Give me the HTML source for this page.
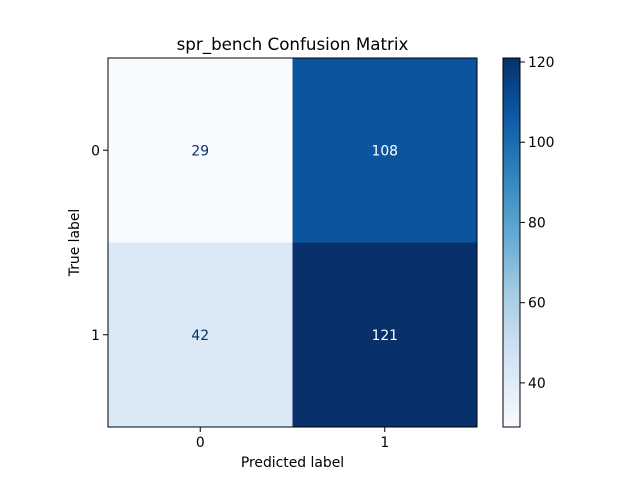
<!DOCTYPE html>
<html><head><meta charset="utf-8"><style>
body{margin:0;background:#fff;}
svg{font-family:"DejaVu Sans","Liberation Sans",sans-serif;}
</style></head><body>
<svg id="chart" width="640" height="480" viewBox="0 0 640 480" xmlns="http://www.w3.org/2000/svg">
<rect width="640" height="480" fill="#fff"/>
<text x="292.5" y="50" font-size="16.7" text-anchor="middle" fill="#000">spr_bench Confusion Matrix</text>
<defs><linearGradient id="cbg" x1="0" y1="1" x2="0" y2="0">
<stop offset="0" stop-color="#f7fbff"/><stop offset="0.125" stop-color="#deebf7"/><stop offset="0.25" stop-color="#c6dbef"/><stop offset="0.375" stop-color="#9ecae1"/><stop offset="0.5" stop-color="#6baed6"/><stop offset="0.625" stop-color="#4292c6"/><stop offset="0.75" stop-color="#2171b5"/><stop offset="0.875" stop-color="#08519c"/><stop offset="1" stop-color="#08306b"/>
</linearGradient></defs>
<g id="cells"></g>
<g id="axes"></g>
</svg>
<script>
const rowLabels=["0","1"];
const colLabels=["0","1"];
const row0=[29,108];
const row1=[42,121];
const cbTicks=[40,60,80,100,120];

const matrix=[row0,row1];
const L=108,T=58,R=477,B=427;
const all=matrix.flat();const vmin=Math.min(...all),vmax=Math.max(...all);
const cw=(R-L)/colLabels.length,ch=(B-T)/rowLabels.length;
const stops=["#f7fbff","#deebf7","#c6dbef","#9ecae1","#6baed6","#4292c6","#2171b5","#08519c","#08306b"].map(h=>[parseInt(h.substr(1,2),16),parseInt(h.substr(3,2),16),parseInt(h.substr(5,2),16)]);
function cmap(v){let t=(v-vmin)/(vmax-vmin);t=Math.max(0,Math.min(1,t));const p=t*8;const i=Math.min(7,Math.floor(p));const f=p-i;const c=stops[i].map((a,k)=>Math.round(a+(stops[i+1][k]-a)*f));return `rgb(${c})`;}
const NS="http://www.w3.org/2000/svg";
function el(tag,attrs,parent){const e=document.createElementNS(NS,tag);for(const k in attrs)e.setAttribute(k,attrs[k]);parent.appendChild(e);return e;}
const cells=document.getElementById('cells'),axes=document.getElementById('axes');
matrix.forEach((row,r)=>row.forEach((v,c)=>{
 const x=L+c*cw,y=T+r*ch;
 const rc=el('rect',{x:x,y:y,width:cw+0.5,height:ch+0.5,fill:cmap(v)},cells);
 
 
 const t=el('text',{x:x+cw/2,y:y+ch/2+5,'font-size':'13.9','text-anchor':'middle',fill:(v-vmin)/(vmax-vmin)>0.5?'#fff':'#08306b'},cells);
 t.textContent=v;
 
 
}));
el('rect',{x:L,y:T,width:R-L,height:B-T,fill:'none',stroke:'#000','stroke-width':1},axes);
colLabels.forEach((lab,i)=>{const x=L+(i+0.5)*cw;el('line',{x1:x,x2:x,y1:B,y2:B+5,stroke:'#000'},axes);
 const t=el('text',{x:x,y:B+20,'font-size':'13.9','text-anchor':'middle'},axes);t.textContent=lab;
 
 });
rowLabels.forEach((lab,i)=>{const y=T+(i+0.5)*ch;el('line',{x1:L-5,x2:L,y1:y,y2:y,stroke:'#000'},axes);
 const t=el('text',{x:L-8,y:y+5,'font-size':'13.9','text-anchor':'end'},axes);t.textContent=lab;
 
 });
const xl=el('text',{x:(L+R)/2,y:467,'font-size':'13.9','text-anchor':'middle'},axes);xl.textContent='Predicted label';


const yl=el('text',{x:0,y:0,'font-size':'13.9','text-anchor':'middle',transform:`translate(79,${(T+B)/2}) rotate(-90)`},axes);yl.textContent='True label';


const CL=503,CR=520;
const cb=el('rect',{x:CL,y:T,width:CR-CL,height:B-T,fill:'url(#cbg)',stroke:'#000','stroke-width':1},axes);


cbTicks.forEach(v=>{const y=B-(v-vmin)/(vmax-vmin)*(B-T);
 el('line',{x1:CR,x2:CR+5,y1:y,y2:y,stroke:'#000'},axes);
 const t=el('text',{x:CR+8,y:y+5,'font-size':'13.9'},axes);t.textContent=v;
 
 });
</script>
</body></html>
